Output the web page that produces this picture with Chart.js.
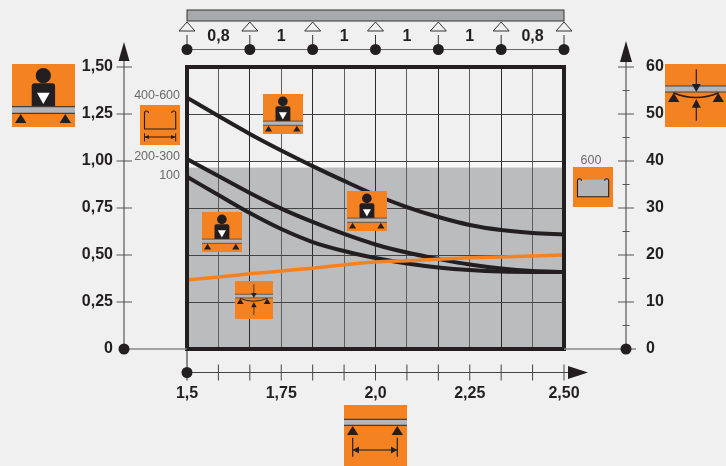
<!DOCTYPE html>
<html>
<head>
<meta charset="utf-8">
<script src="https://cdn.jsdelivr.net/npm/chart.js@4"></script>
<style>
  body { margin: 0; background: #f0f0f0; overflow: hidden; }
  canvas { display: block; }
</style>
</head>
<body>
<canvas id="miGrafica" width="726" height="466"></canvas>
<script>
const categories = ['1,5', '', '', '1,75', '', '', '2,0', '', '', '2,25', '', '', '2,50'];
const spanLabels = ['', '0,8', '', '1', '', '1', '', '1', '', '1', '', '0,8', ''];
const leftTicks = ['0', '0,25', '0,50', '0,75', '1,00', '1,25', '1,50'];
const rightTicks = ['0', '', '10', '', '20', '', '30', '', '40', '', '50', '', '60'];
const supports = [0, 2, 4, 6, 8, 10, 12]; // posiciones de los apoyos sobre categories

const curve400 = [1.337, 1.239, 1.144, 1.056, 0.973, 0.894, 0.819, 0.755, 0.702, 0.660, 0.633, 0.617, 0.609];
const curve200 = [1.011, 0.920, 0.830, 0.747, 0.676, 0.612, 0.556, 0.513, 0.479, 0.449, 0.428, 0.415, 0.410];
const curve100 = [0.916, 0.819, 0.723, 0.638, 0.569, 0.521, 0.484, 0.455, 0.434, 0.420, 0.412, 0.410, 0.410];
const deflection = [14.7, 15.3, 16.0, 16.6, 17.2, 17.9, 18.5, 18.8, 19.1, 19.4, 19.6, 19.8, 20.0];
const shadeTop = 0.965;
const bandTop = 1.0;

const ORANGE = '#f58220';
const DARK = '#231f20';
const BEAM = '#b4b5b8';

function tri(c, x1, y1, x2, y2, x3, y3, fill) {
  c.beginPath();
  c.moveTo(x1, y1);
  c.lineTo(x2, y2);
  c.lineTo(x3, y3);
  c.closePath();
  if (fill) {
    c.fillStyle = fill;
    c.fill();
  } else {
    c.stroke();
  }
}

function seg(c, x1, y1, x2, y2, color, w) {
  c.strokeStyle = color;
  c.lineWidth = w;
  c.beginPath();
  c.moveTo(x1, y1);
  c.lineTo(x2, y2);
  c.stroke();
}

function dot(c, x, y) {
  c.fillStyle = DARK;
  c.beginPath();
  c.arc(x, y, 5.5, 0, Math.PI * 2);
  c.fill();
}

// iconos: dibujados en una caja de 63 unidades
function beam(c, y1, y2) {
  c.fillStyle = BEAM;
  c.fillRect(0, y1, 63, y2 - y1);
  seg(c, 0, y1, 63, y1, '#4a3f35', 1.2);
  seg(c, 0, y2, 63, y2, '#4a3f35', 1.2);
}

function feet(c, y1, y2) {
  seg(c, 8.7, y1, 8.7, y2, '#4a3f35', 1.2);
  seg(c, 53.3, y1, 53.3, y2, '#4a3f35', 1.2);
  tri(c, 8.7, y2, 3, y2 + 9, 14.4, y2 + 9, DARK);
  tri(c, 53.3, y2, 47.6, y2 + 9, 59, y2 + 9, DARK);
}

function iconPerson(c, x, y, size) {
  const k = size / 63;
  c.save();
  c.translate(x, y);
  c.scale(k, k);
  c.fillStyle = ORANGE;
  c.fillRect(0, 0, 63, 63);
  c.fillStyle = DARK;
  c.beginPath();
  c.arc(31.3, 11.7, 7.6, 0, Math.PI * 2);
  c.fill();
  c.beginPath();
  c.roundRect(19.7, 19.3, 23.4, 24, [3, 3, 0, 0]);
  c.fill();
  tri(c, 25, 28.7, 37.7, 28.7, 31.3, 40, '#ffffff');
  beam(c, 42.7, 49.3);
  feet(c, 49.3, 50);
  c.restore();
}

function iconSpan(c, x, y, size) {
  const k = size / 63;
  c.save();
  c.translate(x, y);
  c.scale(k, k);
  c.fillStyle = ORANGE;
  c.fillRect(0, 0, 63, 63);
  beam(c, 14.3, 20.3);
  feet(c, 20.3, 21);
  seg(c, 8.7, 32.7, 8.7, 51.7, DARK, 1.2);
  seg(c, 53.3, 32.7, 53.3, 51.7, DARK, 1.2);
  seg(c, 8.7, 45, 53.3, 45, '#4a3f35', 1.4);
  tri(c, 8.7, 45, 15, 41.5, 15, 48.5, DARK);
  tri(c, 53.3, 45, 47, 41.5, 47, 48.5, DARK);
  c.restore();
}

function iconBend(c, x, y, size, w) {
  const k = size / 63;
  c.save();
  c.translate(x, y);
  c.scale(k, k);
  c.fillStyle = ORANGE;
  c.fillRect(0, 0, w || 63, 63);
  beam(c, 22, 28);
  feet(c, 28, 29);
  c.strokeStyle = DARK;
  c.lineWidth = 1.6;
  c.beginPath();
  c.moveTo(8.7, 29);
  c.quadraticCurveTo(31, 38, 53.3, 29);
  c.stroke();
  seg(c, 31.3, 5.3, 31.3, 22, DARK, 1.2);
  tri(c, 31.3, 28, 26.8, 20, 35.8, 20, DARK);
  seg(c, 31.3, 42, 31.3, 56.7, DARK, 1.2);
  tri(c, 31.3, 35, 26.8, 43.7, 35.8, 43.7, DARK);
  c.restore();
}

function channel(c, x, y, top, bottom, fill) {
  const l = x + 4.5, r = x + 35.7;
  if (fill) {
    c.fillStyle = BEAM;
    c.fillRect(l, y + top + 2, r - l, bottom - top - 2);
  }
  c.strokeStyle = DARK;
  c.lineWidth = 1.1;
  c.beginPath();
  c.moveTo(l + 4, y + top + 3);
  c.arc(l + 2, y + top + 3, 2, 0, Math.PI, true);
  c.lineTo(l, y + bottom);
  c.lineTo(r, y + bottom);
  c.lineTo(r, y + top + 3);
  c.arc(r - 2, y + top + 3, 2, 0, Math.PI, true);
  c.stroke();
}

const decor = {
  id: 'decor',
  beforeDraw(chart) {
    const c = chart.ctx, a = chart.chartArea, y = chart.scales.y;
    c.save();
    c.fillStyle = '#f0f0f0';
    c.fillRect(0, 0, chart.width, chart.height);
    c.fillStyle = '#f8f8f8';
    c.fillRect(a.left, y.getPixelForValue(bandTop), a.width, y.getPixelForValue(shadeTop) - y.getPixelForValue(bandTop));
    c.fillStyle = '#bbbcbe';
    c.fillRect(a.left, y.getPixelForValue(shadeTop), a.width, a.bottom - y.getPixelForValue(shadeTop));
    c.restore();
  },
  afterDraw(chart) {
    const c = chart.ctx, a = chart.chartArea;
    const x = chart.scales.x, y = chart.scales.y, y2 = chart.scales.y2;
    const axL = 124, axR = 626, axB = 372.5;
    c.save();

    // marco
    c.strokeStyle = DARK;
    c.lineWidth = 4;
    c.strokeRect(a.left, a.top, a.width, a.height);

    // eje izquierdo
    seg(c, axL, 60, axL, a.bottom, '#777', 1.5);
    seg(c, axL, a.bottom, a.left, a.bottom, '#888', 1.5);
    tri(c, axL, 42, axL - 5.5, 61, axL + 5.5, 61, DARK);
    y.ticks.forEach((t, i) => {
      if (i > 0) seg(c, axL - 7.5, y.getPixelForTick(i), axL + 8, y.getPixelForTick(i), '#555', 1);
    });
    dot(c, axL, a.bottom);

    // eje derecho
    seg(c, axR, 60, axR, a.bottom, '#777', 1.5);
    seg(c, a.right, a.bottom, axR + 10, a.bottom, '#888', 1.5);
    tri(c, axR, 41, axR - 6, 62, axR + 6, 62, DARK);
    y2.ticks.forEach((t, i) => {
      const w = i % 2 ? 3.5 : 8;
      if (i > 0) seg(c, axR - w, y2.getPixelForTick(i), axR + w, y2.getPixelForTick(i), '#555', 1);
    });
    dot(c, axR, a.bottom);

    // eje inferior
    seg(c, a.left, a.bottom, a.left, axB + 8, DARK, 1);
    seg(c, a.left, axB, a.right + 4, axB, '#444', 1);
    x.ticks.forEach((t, i) => {
      if (i > 0) seg(c, x.getPixelForTick(i), axB - 8, x.getPixelForTick(i), axB + 8, '#444', 1);
    });
    tri(c, 588, axB, 568, axB - 6.5, 568, axB + 6.5, DARK);
    dot(c, a.left, axB);

    // viga y apoyos
    c.fillStyle = '#a7a9ac';
    c.fillRect(a.left, 10, a.width, 11);
    c.strokeStyle = '#333';
    c.lineWidth = 1;
    c.strokeRect(a.left, 10, a.width, 11);
    seg(c, a.left, 49.5, a.right, 49.5, '#666', 1);
    supports.forEach(i => {
      const px = x.getPixelForValue(i);
      c.strokeStyle = '#333';
      c.lineWidth = 1;
      tri(c, px, 22, px - 8, 31, px + 8, 31);
      seg(c, px, 35, px, 49, '#333', 1);
      dot(c, px, 49.5);
    });

    // iconos
    iconPerson(c, 12, 64, 63);
    iconPerson(c, 263, 94, 40);
    iconPerson(c, 202, 212, 40);
    iconPerson(c, 347, 191, 40);
    iconBend(c, 665, 64, 63);
    iconBend(c, 235, 281, 38);
    iconSpan(c, 344, 405, 63);

    c.fillStyle = ORANGE;
    c.fillRect(140, 105, 40, 40);
    channel(c, 140, 105, 5, 24, false);
    seg(c, 144.5, 137, 175.5, 137, DARK, 1);
    seg(c, 144.5, 133.3, 144.5, 141.3, DARK, 1);
    seg(c, 175.7, 133.3, 175.7, 141.3, DARK, 1);
    tri(c, 144.5, 137, 149, 135, 149, 139, DARK);
    tri(c, 175.7, 137, 171, 135, 171, 139, DARK);
    c.fillStyle = ORANGE;
    c.fillRect(573, 167, 40, 40);
    channel(c, 573, 167, 10.7, 29.7, true);

    // rotulos de ancho
    c.fillStyle = '#6a6a6a';
    c.font = '12.5px "Liberation Sans"';
    c.textBaseline = 'middle';
    c.textAlign = 'right';
    c.fillText('400-600', 180, 95.5);
    c.fillText('200-300', 180, 156.5);
    c.fillText('100', 180, 175.5);
    c.textAlign = 'center';
    c.fillText('600', 591, 160.5);
    c.restore();
  }
};

const boldFont = { family: '"Liberation Sans"', size: 16, weight: 'bold' };

new Chart(document.getElementById('miGrafica').getContext('2d'), {
  type: 'line',
  data: {
    labels: categories,
    datasets: [
      { label: 'Deflection', data: deflection, yAxisID: 'y2', borderColor: ORANGE, borderWidth: 3.5 },
      { label: '400-600', data: curve400, yAxisID: 'y', borderColor: DARK, borderWidth: 4 },
      { label: '200-300', data: curve200, yAxisID: 'y', borderColor: DARK, borderWidth: 4 },
      { label: '100', data: curve100, yAxisID: 'y', borderColor: DARK, borderWidth: 4 }
    ]
  },
  options: {
    responsive: false,
    animation: false,
    devicePixelRatio: 1,
    layout: { padding: 0, autoPadding: false },
    elements: {
      point: { radius: 0 },
      line: { cubicInterpolationMode: 'monotone' }
    },
    plugins: { legend: { display: false }, tooltip: { enabled: false } },
    scales: {
      x: {
        type: 'category',
        position: 'bottom',
        afterFit: s => { s.height = 117; },
        border: { display: false },
        grid: {
          drawTicks: false,
          color: c => (c.index % 2 ? '#5e5e5e' : '#2a2a2a'),
          lineWidth: 1
        },
        ticks: {
          autoSkip: false, maxRotation: 0, minRotation: 0,
          padding: 35, color: DARK, font: boldFont
        }
      },
      xTop: {
        type: 'category',
        position: 'top',
        labels: spanLabels,
        afterFit: s => { s.height = 67; },
        border: { display: false },
        grid: { display: false },
        ticks: {
          autoSkip: false, maxRotation: 0, minRotation: 0,
          padding: 13, color: DARK, font: boldFont
        }
      },
      y: {
        position: 'left',
        min: 0,
        max: 1.5,
        afterFit: s => { s.width = 187; s.paddingTop = 0; s.paddingBottom = 0; },
        border: { display: false },
        grid: { drawTicks: false, color: '#444', lineWidth: 1 },
        ticks: {
          stepSize: 0.25, padding: 74, crossAlign: 'near', color: DARK, font: boldFont,
          callback: (v, i) => leftTicks[i]
        }
      },
      y2: {
        position: 'right',
        min: 0,
        max: 60,
        afterFit: s => { s.width = 162; s.paddingTop = 0; s.paddingBottom = 0; },
        border: { display: false },
        grid: { display: false },
        ticks: {
          stepSize: 5, padding: 74, crossAlign: 'near', color: DARK, font: boldFont,
          callback: (v, i) => rightTicks[i]
        }
      }
    }
  },
  plugins: [decor]
});
</script>
</body>
</html>
